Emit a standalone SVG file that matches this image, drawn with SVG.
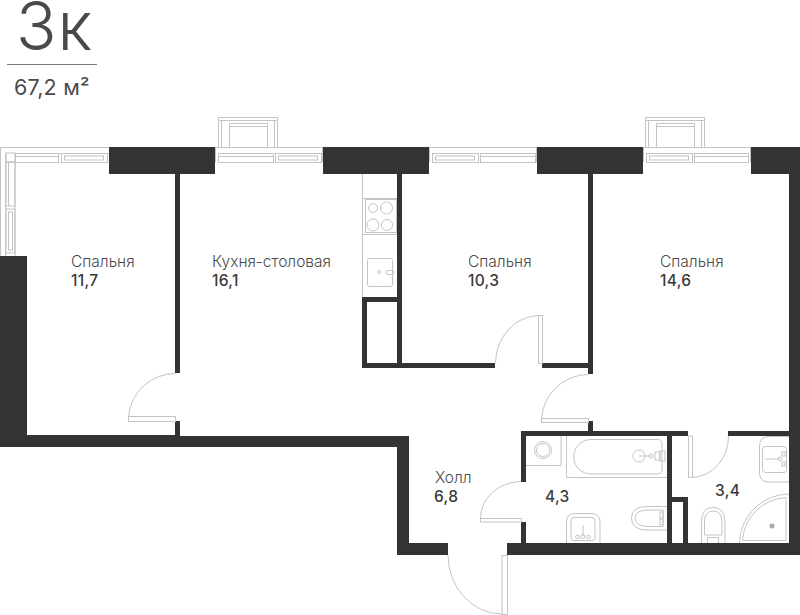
<svg xmlns="http://www.w3.org/2000/svg" width="800" height="615" viewBox="0 0 800 615">
<style>
text{font-family:"Inter","Noto Sans",sans-serif;fill:#4a4a4a}
.n{font-size:15.500px;font-weight:300}
.v{font-size:15.500px;font-weight:500;fill:#3a3a3a;letter-spacing:.3px}
.w{fill:#333;stroke:none}
.l{fill:none;stroke:#c4c4c4;stroke-width:1}
.f{fill:#fff;stroke:#c4c4c4;stroke-width:1}
</style>
<defs>
<g id="bay"><rect class="l" x="0" y="0" width="59" height="30"/><path class="l" d="M0 3H59M3 3V30M56 3V30"/><rect class="l" x="11" y="6" width="38" height="24"/><path class="l" d="M11 9H49"/></g>
</defs>
<rect width="800" height="615" fill="#fff"/>
<g id="title">
<text x="16" y="50" font-size="67" font-weight="300" letter-spacing="1">3к</text>
<rect x="7" y="64" width="90" height="1" fill="#777"/>
<text x="14" y="95" font-size="21.500" font-weight="400" letter-spacing=".2">67,2 м²</text>
</g>
<g id="walls">
<path class="w" d="M0 256H27V435H175V421H180V436H397H409V543H448V555H397V447H0Z"/>
<rect class="w" x="109" y="147" width="106" height="27"/>
<rect class="w" x="323" y="147" width="106" height="27"/>
<rect class="w" x="537" y="147" width="106" height="27"/>
<path class="w" d="M751 147H800V555H507V543H789V174H751Z"/>
<rect class="w" x="175" y="174" width="5" height="199"/>
<rect class="w" x="397" y="174" width="5" height="190"/>
<rect class="w" x="362" y="363" width="133" height="5"/>
<rect class="w" x="542" y="363" width="46" height="5"/>
<rect class="w" x="362" y="297" width="5" height="68"/>
<rect class="w" x="362" y="297" width="36" height="5"/>
<rect class="w" x="588" y="174" width="5" height="200"/>
<rect class="w" x="588" y="421" width="5" height="11"/>
<rect class="w" x="521" y="431" width="167" height="5"/>
<rect class="w" x="728" y="431" width="62" height="5"/>
<rect class="w" x="521" y="431" width="5" height="51"/>
<rect class="w" x="521" y="522" width="5" height="22"/>
<rect class="w" x="667" y="431" width="5" height="113"/>
<rect class="w" x="667" y="497" width="21" height="5"/>
<rect class="w" x="683" y="497" width="5" height="47"/>
</g>
<g id="windows">
<path class="l" d="M0.500 256V147.500H109M5.500 256V153M15 256V153M5.500 162H15M15 153.500H109"/>
<rect class="f" x="6" y="153" width="9" height="9"/>
<rect class="l" x="6" y="162" width="9" height="44"/>
<path class="l" d="M8.500 162V206"/>
<rect class="l" x="6" y="209" width="9" height="44"/>
<rect class="l" x="8.500" y="212" width="4" height="38"/>
<rect class="l" x="15.500" y="153.500" width="43" height="9"/><path class="l" d="M15.500 156.500H58.500"/>
<rect class="l" x="61.500" y="153.500" width="46" height="9"/><rect class="l" x="64.500" y="156" width="39" height="4"/>
<path class="l" d="M215.500 147.500H323M215.500 147.500V162M322.500 147.500V162"/>
<rect class="l" x="218.500" y="153.500" width="55" height="9"/><path class="l" d="M218.500 156.500H273.500"/>
<rect class="l" x="275.500" y="153.500" width="46" height="9"/><rect class="l" x="278.500" y="156" width="39" height="4"/>
<path class="l" d="M429.500 147.500H537M429.500 147.500V162M536.500 147.500V162"/>
<rect class="l" x="432.500" y="153.500" width="46" height="9"/><rect class="l" x="435.500" y="156" width="39" height="4"/>
<rect class="l" x="480.500" y="153.500" width="55" height="9"/><path class="l" d="M480.500 156.500H535.500"/>
<path class="l" d="M643.500 147.500H751M643.500 147.500V162M750.500 147.500V162"/>
<rect class="l" x="646.500" y="153.500" width="46" height="9"/><rect class="l" x="649.500" y="156" width="39" height="4"/>
<rect class="l" x="694.500" y="153.500" width="54" height="9"/><path class="l" d="M694.500 156.500H748.500"/>
<use href="#bay" x="218.500" y="117.500"/>
<use href="#bay" x="645.500" y="117.500"/>
</g>
<g id="doors">
<path class="l" d="M175.500 373.500A47 47 0 0 0 128.500 416.500"/><rect class="l" x="128.500" y="416.500" width="47" height="5"/>
<path class="l" d="M538.500 315.500A44 48 0 0 0 495.500 363"/><rect class="l" x="538.500" y="315.500" width="4" height="48"/>
<path class="l" d="M588 374.500A47 47 0 0 0 541.500 418.500"/><rect class="l" x="541.500" y="418.500" width="47" height="4"/>
<path class="l" d="M521 481.500A41 37 0 0 0 480.500 518.500"/><rect class="l" x="480.500" y="518.500" width="41" height="3.500"/>
<path class="l" d="M448 555A54 59 0 0 0 502 614"/><rect class="l" x="502" y="555.500" width="5.500" height="59"/>
<path class="l" d="M692 477.500A38 41 0 0 0 728.500 436"/><rect class="l" x="688.500" y="436" width="4" height="41.500"/>
</g>
<g id="kitchen">
<path class="l" d="M362.500 174V297"/>
<path class="l" d="M362.500 198.500H397M362.500 234.500H397"/>
<rect class="l" x="365.500" y="199.500" width="31" height="33"/>
<circle class="l" cx="373" cy="208" r="4.500"/><circle class="l" cx="386.500" cy="208" r="6"/>
<circle class="l" cx="373" cy="225" r="6"/><circle class="l" cx="387" cy="225" r="5.500"/>
<rect class="l" x="367.500" y="258.500" width="25" height="28" rx="2"/>
<circle class="l" cx="379" cy="272" r="1.500"/>
<rect class="l" x="386" y="270.500" width="8" height="4" rx="2" fill="#fff"/>
</g>
<g id="bath">
<path class="l" d="M526 465.500H561V436"/>
<circle class="l" cx="543" cy="450" r="8.500"/><circle class="l" cx="543" cy="450" r="6.500"/>
<path class="l" d="M566.500 436V477.500H667"/>
<path class="l" d="M591 439.500H658Q662 439.500 662 444V470Q662 474 658 474H591A17.250 17.250 0 0 1 591 439.500Z"/>
<circle class="l" cx="639" cy="456" r="6"/>
<path class="l" d="M639 456H651"/><circle class="l" cx="651" cy="456" r="2"/>
<rect class="l" x="655" y="452" width="5" height="8"/><rect class="l" x="660" y="451" width="5" height="10"/>
<path class="l" d="M566.500 543V522Q566.500 513.500 575 513.500H591Q600 513.500 600 522V543"/>
<rect class="l" x="571" y="517.500" width="24" height="23" rx="3"/>
<path class="l" d="M583 525V536"/><circle class="l" cx="583" cy="536.500" r="2"/><circle class="l" cx="577.500" cy="537" r="1.800"/><circle class="l" cx="588.500" cy="537" r="1.800"/>
<path class="l" d="M667 506.500H647Q631.500 506.500 631.500 518Q631.500 530 647 530H667"/>
<path class="l" d="M663 510H648Q635 510 635 518Q635 526.500 648 526.500H663V510Z"/>
<rect class="l" x="660" y="512" width="3" height="6"/><rect class="l" x="660" y="519" width="3" height="6"/>
</g>
<g id="wc">
<path class="l" d="M789 436.500H769Q759.500 436.500 759.500 446V473Q759.500 482 769 482H789"/>
<rect class="l" x="762.500" y="446.500" width="24" height="26" rx="3"/>
<path class="l" d="M765 459H780"/><circle class="l" cx="780" cy="459" r="2"/>
<rect class="l" x="782" y="452" width="3" height="4"/><rect class="l" x="782" y="462" width="3" height="4"/>
<path class="l" d="M739.500 543A50 50 0 0 1 789 494"/>
<path class="l" d="M742.500 540.500A46 46 0 0 1 786 497.500V540.500Z"/>
<circle cx="772" cy="526" r="2.500" fill="#aaa"/>
<path class="l" d="M701.500 543V522Q701.500 507.500 713 507.500Q725 507.500 725 522V543"/>
<path class="l" d="M704.500 535V522Q704.500 511 713 511Q722 511 722 522V535Z"/>
<path class="l" d="M707.500 537V543M718.500 537V543M707 537.500H719"/>
</g>
<g id="labels">
<text class="n" x="71" y="267">Спальня</text><text class="v" x="71" y="286">11,7</text>
<text class="n" x="212" y="267">Кухня-столовая</text><text class="v" x="212" y="286">16,1</text>
<text class="n" x="468" y="267">Спальня</text><text class="v" x="468" y="286">10,3</text>
<text class="n" x="660" y="267">Спальня</text><text class="v" x="660" y="286">14,6</text>
<text class="n" x="435" y="483">Холл</text><text class="v" x="434" y="502">6,8</text>
<text class="v" x="545" y="502">4,3</text>
<text class="v" x="715" y="496">3,4</text>
</g>
</svg>
